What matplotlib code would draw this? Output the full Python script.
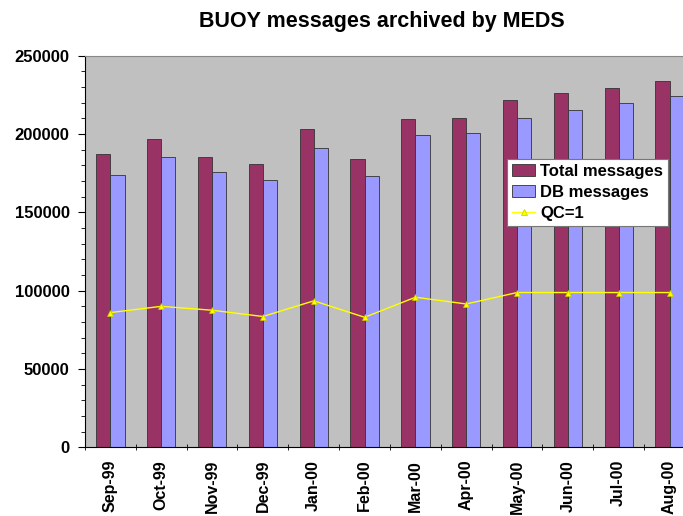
import numpy as np
import matplotlib.pyplot as plt
from matplotlib.ticker import MultipleLocator, FixedLocator

months = ["Sep-99", "Oct-99", "Nov-99", "Dec-99", "Jan-00", "Feb-00",
          "Mar-00", "Apr-00", "May-00", "Jun-00", "Jul-00", "Aug-00"]
total_msgs = [187000, 197000, 185500, 181000, 203000, 184000,
              209500, 210500, 221500, 226500, 229500, 234000]
db_msgs = [174000, 185500, 175500, 170500, 191000, 173000,
           199500, 200500, 210000, 215500, 220000, 224000]
qc1_msgs = [86000, 90000, 87500, 83500, 93500, 83000,
            95800, 91500, 98800, 98800, 98800, 98800]

plt.rcParams['font.family'] = ['Liberation Sans', 'DejaVu Sans']
plt.rcParams['font.weight'] = 'bold'

fig = plt.figure(figsize=(6.83, 5.16), dpi=100)
ax = fig.add_axes([85 / 683, 1 - 447.3 / 516, 610 / 683, 391.6 / 516])
ax.set_facecolor('#C0C0C0')

x = np.arange(len(months))
w = 0.28
b1 = ax.bar(x - w / 2, total_msgs, w, color='#993366', edgecolor='#333333',
            linewidth=0.6, label='Total messages', zorder=2)
b2 = ax.bar(x + w / 2, db_msgs, w, color='#9999FF', edgecolor='#333333',
            linewidth=0.6, label='DB messages', zorder=2)
ln, = ax.plot(x, qc1_msgs, color='#FFFF00', linewidth=1.0, marker='^',
              markersize=5, markeredgecolor='#C8C800', markeredgewidth=0.5,
              label='QC=1', zorder=3)

ax.set_xlim(-0.5, len(months) - 0.5)
ax.set_ylim(0, 250000)
ax.yaxis.set_major_locator(MultipleLocator(50000))
ax.yaxis.set_minor_locator(MultipleLocator(10000))
ax.tick_params(axis='y', which='major', length=5, labelsize=12, pad=6)
ax.tick_params(axis='y', which='minor', length=3)

ax.set_xticks(x)
ax.set_xticklabels(months, rotation=90, fontsize=11.5)
ax.tick_params(axis='x', which='major', length=0, pad=9)
ax.xaxis.set_minor_locator(FixedLocator(np.arange(-0.5, len(months), 1.0)))
ax.tick_params(axis='x', which='minor', length=5, direction='inout')

for side in ('top', 'right'):
    ax.spines[side].set_color('#888888')
    ax.spines[side].set_linewidth(0.8)

leg = ax.legend([b1, b2, ln], ['Total messages', 'DB messages', 'QC=1'],
                loc='upper left', bbox_to_anchor=(0.692, 0.736), fontsize=12,
                frameon=True, fancybox=False, framealpha=1,
                facecolor='white', edgecolor='#777777',
                borderpad=0.3, labelspacing=0.35, handlelength=1.4,
                handletextpad=0.3, borderaxespad=0)
leg.get_frame().set_linewidth(0.8)

fig.text(382 / 683, 1 - 22 / 516, "BUOY messages archived by MEDS",
         ha='center', va='center', fontsize=15.5, fontweight='bold')

fig.savefig('out.png', dpi=100)
